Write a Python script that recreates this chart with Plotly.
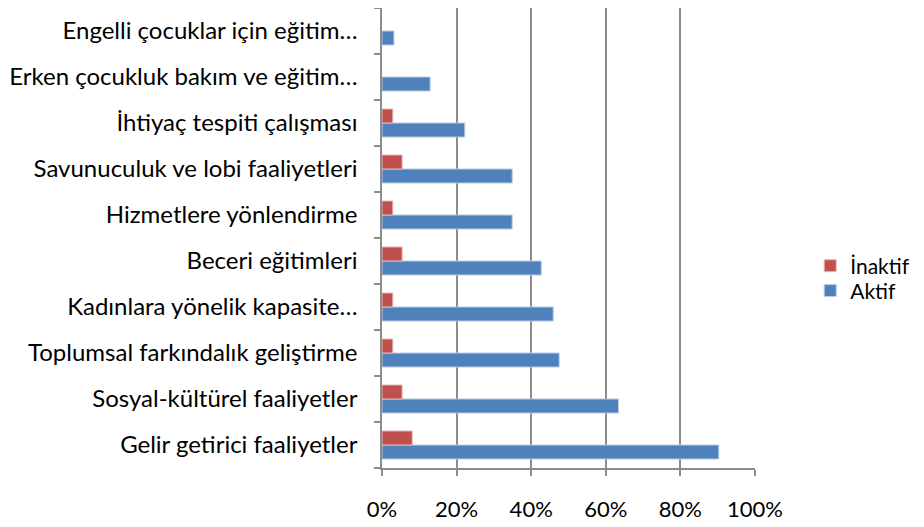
import plotly.graph_objects as go

categories = [
    "Gelir getirici faaliyetler",
    "Sosyal-kültürel faaliyetler",
    "Toplumsal farkındalık geliştirme",
    "Kadınlara yönelik kapasite…",
    "Beceri eğitimleri",
    "Hizmetlere yönlendirme",
    "Savunuculuk ve lobi faaliyetleri",
    "İhtiyaç tespiti çalışması",
    "Erken çocukluk bakım ve eğitim…",
    "Engelli çocuklar için eğitim…",
]
aktif = [0.903, 0.634, 0.475, 0.459, 0.427, 0.349, 0.349, 0.222, 0.129, 0.032]
inaktif = [0.081, 0.054, 0.029, 0.029, 0.054, 0.029, 0.054, 0.029, 0.0, 0.0]
x_ticks = [0, 0.2, 0.4, 0.6, 0.8, 1.0]

FONT = "Lato"

fig = go.Figure()
fig.add_trace(go.Bar(
    y=categories, x=aktif, name="Aktif", orientation="h", legend="legend",
    marker=dict(color="#4F81BD", line=dict(color="#B9CDE5",
                width=[1 if v > 0 else 0 for v in aktif])),
))
fig.add_trace(go.Bar(
    y=categories, x=inaktif, name="İnaktif", orientation="h", legend="legend2",
    marker=dict(color="#C0504D", line=dict(color="#E6B9B8",
                width=[1 if v > 0 else 0 for v in inaktif])),
))

leg_common = dict(x=1.148, xanchor="left", yanchor="middle",
                  font=dict(size=21, family=FONT), itemwidth=30,
                  bgcolor="rgba(0,0,0,0)")

fig.update_layout(
    width=916, height=519,
    margin=dict(l=374, r=169, t=0, b=59, autoexpand=False),
    paper_bgcolor="white", plot_bgcolor="white",
    barmode="group", bargap=0.39, bargroupgap=0,
    font=dict(family=FONT, size=20, color="#000000"),
    showlegend=True,
    legend=dict(y=0.385, **leg_common),
    legend2=dict(y=0.439, **leg_common),
    hovermode=False,
)
fig.update_xaxes(
    range=[0, 1.0], tickvals=x_ticks, tickformat=".0%",
    showgrid=True, gridcolor="#8C8C8C", gridwidth=1.5,
    showline=True, linecolor="#8C8C8C", linewidth=1.5,
    ticks="outside", ticklen=6, tickcolor="#8C8C8C", tickwidth=1.5,
    ticklabelstandoff=15, zeroline=False, automargin=False,
    tickfont=dict(size=22, family=FONT),
)
fig.update_yaxes(
    showgrid=False, showline=True, linecolor="#8C8C8C", linewidth=1.5,
    ticks="outside", ticklen=6, tickcolor="#8C8C8C", tickwidth=1.5,
    tickson="boundaries", ticklabelstandoff=18, automargin=False,
    tickfont=dict(size=24, family=FONT),
)

fig.write_html("out.html")
